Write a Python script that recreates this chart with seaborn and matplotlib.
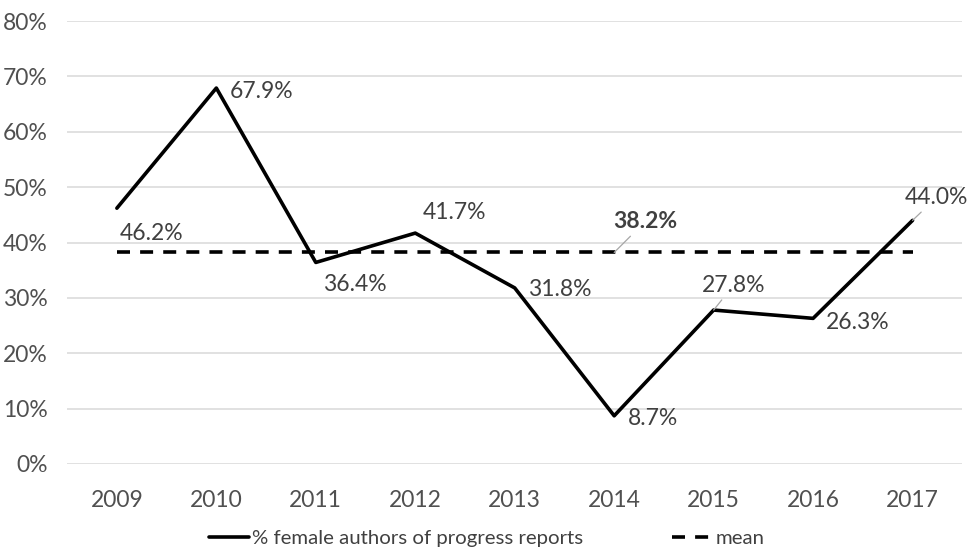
import matplotlib
matplotlib.use("Agg")
import matplotlib.pyplot as plt
import matplotlib.ticker as ticker
import pandas as pd
import seaborn as sns

sns.set_style("white")
plt.rcParams["font.family"] = ["Lato", "DejaVu Sans"]

years = ["2009", "2010", "2011", "2012", "2013", "2014", "2015", "2016", "2017"]
female_pct = [46.2, 67.9, 36.4, 41.7, 31.8, 8.7, 27.8, 26.3, 44.0]
mean_pct = 38.2
y_ticks = [0, 10, 20, 30, 40, 50, 60, 70, 80]

# label offsets in pixels (dx, dy) from each point, and whether a leader line is drawn
label_offsets = [(35, -25), (45, -3), (39, -22), (39, 21), (45, -2),
                 (39, -3), (20, 25), (45, -4), (24, 23)]
label_leader = [False, False, False, False, False, False, True, False, True]

df = pd.DataFrame({"year": years, "pct": female_pct})
df_mean = pd.DataFrame({"year": [years[0], years[-1]], "pct": [mean_pct, mean_pct]})

fig = plt.figure(figsize=(9.73, 5.54), dpi=100)
ax = fig.add_axes([0.069, 0.1625, 0.92, 0.7995])

sns.lineplot(data=df, x="year", y="pct", color="black", linewidth=2.6,
             label="% female authors of progress reports", ax=ax)
sns.lineplot(data=df_mean, x="year", y="pct", color="black", linewidth=2.6,
             label="mean", ax=ax)
mean_line = ax.get_lines()[1]
mean_line.set_dashes((3.6, 2.8))
mean_line.set_dash_capstyle("butt")

ax.set_xlim(-0.5, len(years) - 0.5)
ax.set_ylim(0, 80)
ax.set_yticks(y_ticks)
ax.yaxis.set_major_formatter(ticker.FuncFormatter(lambda v, pos: "%d%%" % v))
ax.grid(axis="y", color="#d9d9d9", linewidth=1.1)
ax.set_axisbelow(True)
for s in ax.spines.values():
    s.set_visible(False)
ax.tick_params(axis="both", length=0, labelsize=16.5, colors="#505050")
ax.tick_params(axis="y", pad=14)
ax.tick_params(axis="x", pad=19)
ax.set_xlabel("")
ax.set_ylabel("")

txt_color = "#404040"
for i, (v, off, lead) in enumerate(zip(female_pct, label_offsets, label_leader)):
    arrow = dict(arrowstyle="-", color="#a6a6a6", lw=0.9, shrinkA=1, shrinkB=0) if lead else None
    ax.annotate("%.1f%%" % v, xy=(i, v), xytext=off, textcoords="offset pixels",
                ha="center", va="center", fontsize=16.5, color=txt_color,
                arrowprops=arrow)

# mean label above the 2014 position
ax.annotate("%.1f%%" % mean_pct, xy=(years.index("2014"), mean_pct), xytext=(31, 31),
            textcoords="offset pixels", ha="center", va="center", fontsize=16.5,
            fontweight="bold", color=txt_color,
            arrowprops=dict(arrowstyle="-", color="#a6a6a6", lw=0.9, shrinkA=1, shrinkB=0))

ax.get_legend().remove()
handles, labels = ax.get_legend_handles_labels()
fig.legend(handles, labels, loc="lower center", bbox_to_anchor=(0.5, -0.02), ncol=2,
           frameon=False, fontsize=14.7, handlelength=2.0, handletextpad=0.1,
           columnspacing=4.4, labelcolor=txt_color)

fig.savefig("out.png", dpi=100)
